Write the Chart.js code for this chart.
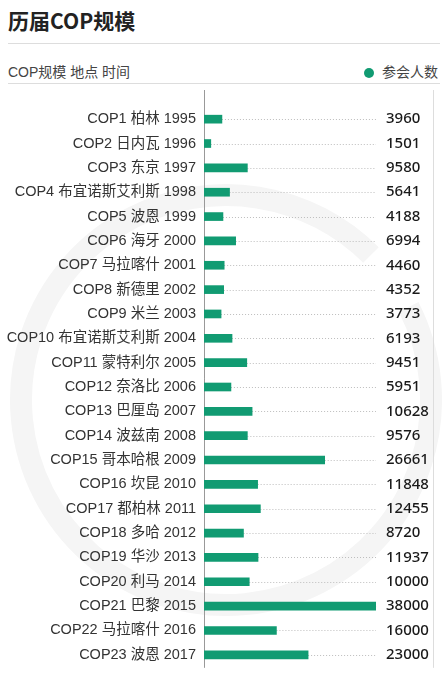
<!DOCTYPE html>
<html>
<head>
<meta charset="utf-8">
<script src="https://cdn.jsdelivr.net/npm/chart.js@4"></script>
<style>
  body { margin: 0; background: #fff; width: 442px; height: 674px; overflow: hidden; position: relative; font-family: "Liberation Sans", "Noto Sans CJK SC", sans-serif; }
  .title { position: absolute; left: 8px; top: 5px; font-size: 21px; font-weight: bold; color: #222; font-family: "Noto Sans CJK SC", sans-serif; }
  .rule { position: absolute; left: 8px; right: 2px; height: 1px; background: #ddd; }
  .sub { position: absolute; left: 8px; top: 61px; font-size: 14px; color: #444; }
  .legend { position: absolute; right: 4px; top: 61px; font-size: 14px; color: #444; }
  .legend i { display: inline-block; width: 10px; height: 10px; border-radius: 50%; background: #119b72; margin-right: 8px; vertical-align: -1px; }
  #wrap { position: absolute; left: 0; top: 88px; }
</style>
</head>
<body>
<div class="title">历届COP规模</div>
<div class="rule" style="top:43px"></div>
<div class="sub">COP规模 地点 时间</div>
<div class="legend"><i></i>参会人数</div>
<div class="rule" style="top:83px"></div>
<div id="wrap"><canvas id="c" width="442" height="598"></canvas></div>
<script>
const categories = [
  "COP1 柏林 1995", "COP2 日内瓦 1996", "COP3 东京 1997", "COP4 布宜诺斯艾利斯 1998",
  "COP5 波恩 1999", "COP6 海牙 2000", "COP7 马拉喀什 2001", "COP8 新德里 2002",
  "COP9 米兰 2003", "COP10 布宜诺斯艾利斯 2004", "COP11 蒙特利尔 2005", "COP12 奈洛比 2006",
  "COP13 巴厘岛 2007", "COP14 波兹南 2008", "COP15 哥本哈根 2009", "COP16 坎昆 2010",
  "COP17 都柏林 2011", "COP18 多哈 2012", "COP19 华沙 2013", "COP20 利马 2014",
  "COP21 巴黎 2015", "COP22 马拉喀什 2016", "COP23 波恩 2017"
];
const attendees = [
  3960, 1501, 9580, 5641, 4188, 6994, 4460, 4352, 3773, 6193, 9451, 5951,
  10628, 9576, 26661, 11848, 12455, 8720, 11937, 10000, 38000, 16000, 23000
];
const valueLabels = attendees.map(v => String(v));
const xMax = 38000;

const BAR = '#119b72';

// faint ring watermark behind the chart
const ring = {
  id: 'ring',
  beforeDraw(chart) {
    const ctx = chart.ctx;
    ctx.save();
    ctx.strokeStyle = '#f5f5f5';
    ctx.lineWidth = 22;
    ctx.beginPath();
    ctx.arc(226, 312, 205, -0.15 * Math.PI, 1.75 * Math.PI);
    ctx.stroke();
    ctx.restore();
  }
};

// dotted leader lines + frame lines
const guides = {
  id: 'guides',
  beforeDatasetsDraw(chart) {
    const {ctx, chartArea, scales} = chart;
    const x = scales.x, y = scales.y;
    const bottom = y.getPixelForValue(categories.length - 1) + 13;
    ctx.save();
    ctx.strokeStyle = '#bdbdbd';
    ctx.lineWidth = 1;
    ctx.setLineDash([1, 2]);
    attendees.forEach((v, i) => {
      const py = Math.round(y.getPixelForValue(i)) + 0.5;
      ctx.beginPath();
      ctx.moveTo(x.getPixelForValue(v), py);
      ctx.lineTo(x.getPixelForValue(xMax), py);
      ctx.stroke();
    });
    ctx.setLineDash([]);
    ctx.strokeStyle = '#999';
    ctx.beginPath();
    ctx.moveTo(chartArea.left + 0.5, 2);
    ctx.lineTo(chartArea.left + 0.5, bottom);
    ctx.stroke();
    ctx.strokeStyle = '#ddd';
    ctx.beginPath();
    ctx.moveTo(433.5, 2);
    ctx.lineTo(433.5, bottom);
    ctx.stroke();
    ctx.restore();
  }
};

new Chart(document.getElementById('c'), {
  type: 'bar',
  data: {
    labels: categories,
    datasets: [{
      label: '参会人数',
      data: attendees,
      backgroundColor: BAR,
      barThickness: 8,
      yAxisID: 'y'
    }]
  },
  options: {
    indexAxis: 'y',
    responsive: false,
    animation: false,
    devicePixelRatio: 1,
    layout: { padding: { top: 13.75, bottom: 0.75, left: 0, right: 0 } },
    plugins: { legend: { display: false }, tooltip: { enabled: false } },
    scales: {
      x: { display: false, min: 0, max: xMax },
      y: {
        type: 'category',
        position: 'left',
        grid: { display: false, drawTicks: false },
        border: { display: false },
        ticks: { padding: 8, color: '#333', font: { family: '"Liberation Sans", "Noto Sans CJK SC"', size: 14.5 } },
        afterFit(s) { s.width = 204; }
      },
      y2: {
        type: 'category',
        position: 'right',
        labels: valueLabels,
        grid: { display: false, drawTicks: false },
        border: { display: false },
        ticks: { padding: 10, color: '#1a1a1a', font: { family: '"Noto Sans"', size: 15, weight: '500' } },
        afterFit(s) { s.width = 66; }
      }
    }
  },
  plugins: [ring, guides]
});
</script>
</body>
</html>
